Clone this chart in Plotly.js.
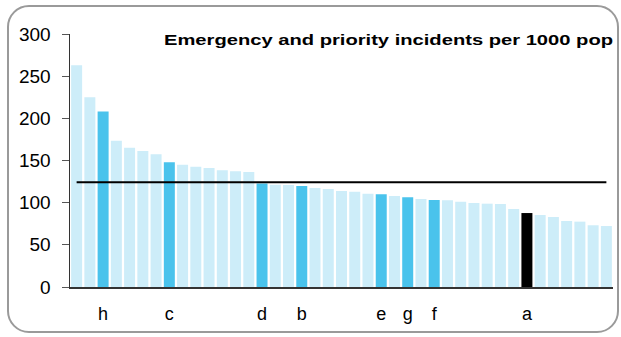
<!DOCTYPE html>
<html>
<head>
<meta charset="utf-8">
<script src="https://cdn.plot.ly/plotly-3.0.1.min.js"></script>
<style>
  html, body { margin: 0; padding: 0; background: #fff; }
  #wrap { position: relative; width: 621px; height: 337px; }
  #frame { position: absolute; left: 7px; top: 5px; width: 608px; height: 324px;
           border: 2px solid #9a9a9a; border-radius: 22px; box-sizing: content-box; }
  #chart { position: absolute; left: 0; top: 0; width: 621px; height: 337px; }
</style>
</head>
<body>
<div id="wrap">
  <div id="frame"></div>
  <div id="chart"></div>
</div>
<script>
// Bar labels (only some bars are named)
const labels = ['', '', 'h', '', '', '', '', 'c', '', '', '', '', '', '', 'd', '', '', 'b', '', '', '', '', '', 'e', '', 'g', '', 'f', '', '', '', '', '', '', 'a', '', '', '', '', '', ''];
// Incidents per 1000 pop
const values = [263, 225, 208, 173.5, 165, 161.3, 157.3, 148, 145, 142.7, 141, 138.3, 137.2, 136.4, 122.8, 121.3, 121, 119.8, 117.4, 116.2, 113.8, 113, 110.7, 109.9, 107.9, 106.3, 104.4, 103.2, 102.8, 101.2, 99.6, 98.8, 98.4, 92.5, 87.7, 85.4, 83, 78.3, 77.5, 73.2, 72.3];
// Highlight group per bar: 0 = other, 1 = named, 2 = focus
const group = [0, 0, 1, 0, 0, 0, 0, 1, 0, 0, 0, 0, 0, 0, 1, 0, 0, 1, 0, 0, 0, 0, 0, 1, 0, 1, 0, 1, 0, 0, 0, 0, 0, 0, 2, 0, 0, 0, 0, 0, 0];
// Average reference line
const average = 124.3;

const palette = ['#cdedf9', '#4ac3ec', '#000000'];
const xs = values.map((v, i) => i);
const tickvals = xs.filter(i => labels[i] !== '');
const ticktext = tickvals.map(i => labels[i]);

const font = 'Liberation Sans, Arial, sans-serif';

const traces = [
  {
    type: 'bar',
    x: xs,
    y: values,
    marker: { color: group.map(g => palette[g]), line: { width: 0 } },
    hoverinfo: 'skip',
    showlegend: false
  },
  {
    type: 'scatter',
    mode: 'lines',
    x: [xs[0], xs[xs.length - 1]],
    y: [average, average],
    line: { color: '#000000', width: 2 },
    hoverinfo: 'skip',
    showlegend: false
  }
];

const layout = {
  width: 621,
  height: 337,
  paper_bgcolor: 'rgba(0,0,0,0)',
  plot_bgcolor: 'rgba(0,0,0,0)',
  margin: { l: 70, r: 8, t: 34, b: 50 },
  bargap: 0.17,
  font: { family: font, color: '#000' },
  title: {
    text: '<b>Emergency and priority incidents per 1000 pop</b>',
    font: { family: font, size: 15.5, color: '#000' },
    xref: 'paper', x: 1, xanchor: 'right',
    yref: 'container', y: 1 - 40 / 337, yanchor: 'middle'
  },
  xaxis: {
    range: [-0.5, values.length - 0.5],
    tickvals: tickvals,
    ticktext: ticktext,
    ticks: '',
    showgrid: false,
    zeroline: false,
    showline: true,
    linecolor: '#333',
    linewidth: 1.5,
    tickfont: { family: font, size: 18, color: '#000' },
    ticklabelstandoff: 10
  },
  yaxis: {
    range: [0, 300],
    tickvals: [0, 50, 100, 150, 200, 250, 300],
    ticks: 'outside',
    ticklen: 7,
    tickwidth: 1,
    tickcolor: '#555',
    showgrid: false,
    zeroline: false,
    showline: true,
    linecolor: '#333',
    linewidth: 1.5,
    tickfont: { family: font, size: 19, color: '#000' },
    ticklabelstandoff: 7
  }
};

Plotly.newPlot('chart', traces, layout, { displayModeBar: false, staticPlot: true }).then(() => {
  // The original title is set in a slightly wide face; stretch it to the same span.
  const t = document.querySelector('.gtitle');
  if (t) {
    t.setAttribute('textLength', '449');
    t.setAttribute('lengthAdjust', 'spacingAndGlyphs');
  }
});
</script>
</body>
</html>
